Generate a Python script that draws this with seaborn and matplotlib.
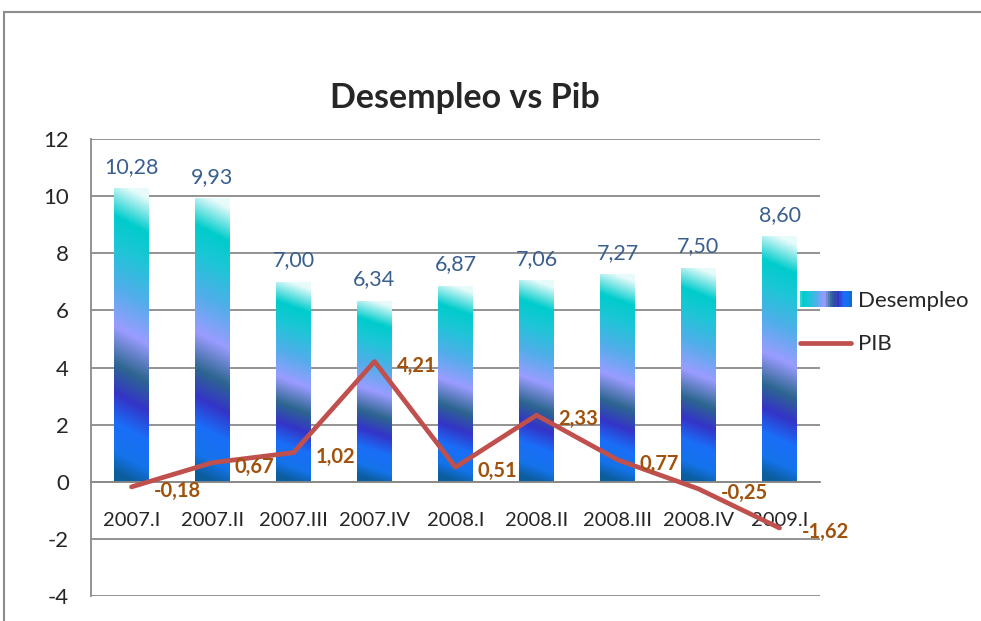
import matplotlib
matplotlib.use('Agg')
import matplotlib.pyplot as plt
import matplotlib.patches as mpatches
from matplotlib.colors import LinearSegmentedColormap
from matplotlib.legend_handler import HandlerBase
from matplotlib.lines import Line2D
import seaborn as sns
import numpy as np

# data
quarters = ['2007.I', '2007.II', '2007.III', '2007.IV', '2008.I', '2008.II', '2008.III', '2008.IV', '2009.I']
desempleo = [10.28, 9.93, 7.00, 6.34, 6.87, 7.06, 7.27, 7.50, 8.60]
pib = [-0.18, 0.67, 1.02, 4.21, 0.51, 2.33, 0.77, -0.25, -1.62]

sns.set_style('white')
plt.rcParams['font.family'] = ['Lato', 'DejaVu Sans']
plt.rcParams['axes.unicode_minus'] = False

# gradient used by Excel style bars (0 = bottom, 1 = top)
grad = LinearSegmentedColormap.from_list('excel', [
    (0.00, '#0b5d9c'), (0.07, '#1473ea'), (0.17, '#1a6ef8'), (0.27, '#3434c8'),
    (0.37, '#2d6690'), (0.50, '#9a9cff'), (0.64, '#50aeea'), (0.78, '#1cc6d6'),
    (0.88, '#00cccc'), (1.00, '#e8fbfb')])

fig = plt.figure(figsize=(9.81, 6.21), dpi=100)
ax = fig.add_axes([91/981, 1 - 596/621, 729/981, 457/621])

# outer chart area border
fig.patches.append(mpatches.Rectangle((4/981, -0.1), 1.2, 1.1 - 12/621, transform=fig.transFigure,
                                      fill=False, edgecolor='#8c8c8c', linewidth=1.5, zorder=0))

sns.barplot(x=quarters, y=desempleo, ax=ax, width=0.43, color='white', saturation=1, zorder=2)

yy, xx = np.mgrid[0:1:200j, 0:1:20j]
g = yy + 0.06 * (xx - 0.5)
for p in ax.patches:
    x0, y0, w, h = p.get_x(), p.get_y(), p.get_width(), p.get_height()
    p.set_facecolor('none')
    p.set_edgecolor('none')
    im = ax.imshow(g, cmap=grad, origin='lower', extent=(x0, x0 + w, y0, y0 + h),
                   aspect='auto', zorder=2, vmin=0, vmax=1)
    im.set_clip_path(p)
    ax.text(x0 + w / 2, y0 + h + 0.4, f'{h:.2f}'.replace('.', ','), ha='center', va='bottom',
            fontsize=15.5, color='#3a5f8f', zorder=5)

xs = np.arange(len(quarters))
sns.lineplot(x=xs, y=pib, ax=ax, color='#c0504d', linewidth=3.4, sort=False, zorder=4)
for x, v in zip(xs, pib):
    ax.annotate(f'{v:.2f}'.replace('.', ','), (x, v), xytext=(16, -3), textcoords='offset points',
                ha='left', va='center', fontsize=14.5, fontweight='bold', color='#a0520c', zorder=5)

ax.set_ylim(-4, 12)
ax.set_xlim(-0.5, len(quarters) - 0.5)
ax.set_yticks(range(-4, 13, 2))
ax.yaxis.grid(True, color='#8a8a8a', linewidth=1.3)
ax.set_axisbelow(True)
for s in ['top', 'right']:
    ax.spines[s].set_visible(False)
ax.spines['left'].set_color('#8a8a8a')
ax.spines['left'].set_linewidth(1.3)
ax.spines['bottom'].set_position(('data', 0))
ax.spines['bottom'].set_color('#8a8a8a')
ax.spines['bottom'].set_linewidth(1.3)
ax.set_xticks(xs)
ax.set_xticklabels(quarters, fontsize=14.5)
ax.set_xticks(np.arange(-0.5, len(quarters), 1), minor=True)
ax.tick_params(axis='x', which='major', length=0, pad=22)
ax.tick_params(axis='x', which='minor', length=7, width=1.3, color='#8a8a8a', direction='out')
ax.tick_params(axis='y', length=6, width=1.3, color='#8a8a8a', direction='out', labelsize=16, pad=10)
ax.set_xlabel('')
ax.set_ylabel('')

ax.set_title('Desempleo vs Pib', fontsize=24.5, fontweight='bold', pad=22, x=0.513)


class GradientHandler(HandlerBase):
    def create_artists(self, legend, orig_handle, xdescent, ydescent, width, height, fontsize, trans):
        arts = []
        n = 24
        for i in range(n):
            r = mpatches.Rectangle((-xdescent + width * i / n, -ydescent), width / n + 0.3, height,
                                   facecolor=grad(0.9 - 0.85 * i / (n - 1)), edgecolor='none',
                                   transform=trans)
            arts.append(r)
        return arts


h_bar = mpatches.Patch(label='Desempleo')
h_line = Line2D([], [], color='#c0504d', linewidth=3.4, label='PIB')
ax.legend([h_bar, h_line], ['Desempleo', 'PIB'], handler_map={mpatches.Patch: GradientHandler()},
          loc='center left', bbox_to_anchor=(0.973, 0.598), frameon=False, fontsize=16,
          handlelength=2.3, handletextpad=0.3, labelspacing=1.05, borderaxespad=0, borderpad=0)

fig.savefig('out.png', dpi=100)
